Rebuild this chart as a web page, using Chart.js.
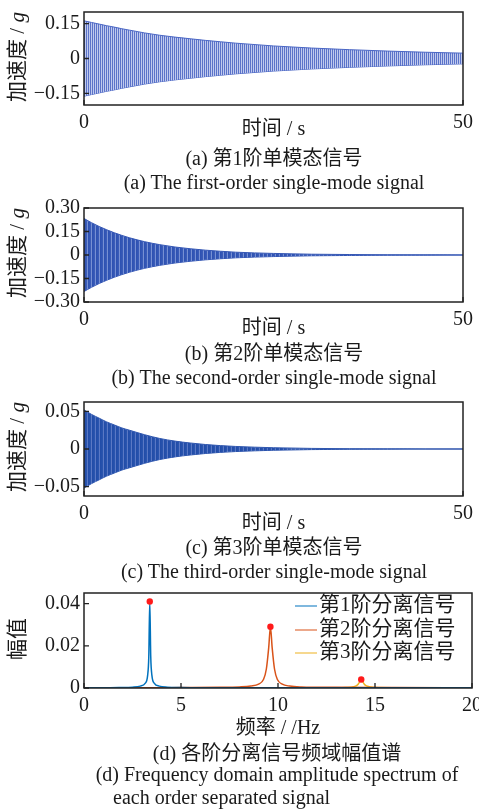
<!DOCTYPE html>
<html><head><meta charset="utf-8">
<script src="https://cdn.jsdelivr.net/npm/chart.js@4.4.1/dist/chart.umd.min.js"></script>
<style>
html,body{margin:0;padding:0;background:#fff;}
#root{position:relative;width:479px;height:810px;overflow:hidden;font-family:"Liberation Serif","Noto Sans CJK SC",serif;color:#1a1a1a;}
canvas{position:absolute;left:0;}
.t{position:absolute;white-space:nowrap;transform:translate(-50%,-50%);font-size:20px;line-height:1;}
.yt{transform:translate(-50%,-50%) rotate(-90deg);font-size:21px;}
.l2{transform:translate(0,-50%);}
.leg{position:absolute;left:295px;white-space:nowrap;font-size:21px;line-height:1;transform:translate(0,-50%);}
.leg span{display:inline-block;width:22px;height:0;border-top:1.6px solid;vertical-align:middle;margin-right:2px;}
</style></head><body><div id="root"></div>
<script>
// ---- data ----
const TIME_S   = [0,1,2,3,4,5,6,8,10,12,14,16,18,20,25,30,35,40,45,50];
const AMP_MODE1 = [0.162,0.155,0.148,0.141,0.135,0.128,0.122,0.110,0.100,0.092,0.085,0.078,0.072,0.066,0.054,0.045,0.038,0.032,0.027,0.023];
const AMP_MODE2 = [0.233,0.206,0.182,0.161,0.142,0.125,0.110,0.085,0.066,0.051,0.040,0.031,0.024,0.018,0.010,0.005,0.003,0.0015,0.001,0.0006];
const AMP_MODE3 = [0.052,0.046,0.041,0.036,0.032,0.028,0.025,0.019,0.014,0.0105,0.008,0.006,0.0045,0.0034,0.0017,0.0008,0.0004,0.0002,0.0001,0.0001];
const X_TICKS_T = [0,50];            const X_LABELS_T = ['0','50'];
const Y_TICKS_1 = [-0.15,0,0.15];    const Y_LABELS_1 = ['\u22120.15','0','0.15'];
const Y_TICKS_2 = [-0.30,-0.15,0,0.15,0.30]; const Y_LABELS_2 = ['\u22120.30','\u22120.15','0','0.15','0.30'];
const Y_TICKS_3 = [-0.05,0,0.05];    const Y_LABELS_3 = ['\u22120.05','0','0.05'];

const FREQ_1 = [0,1,1.8,2.5,2.9,3.15,3.28,3.34,3.39,3.44,3.5,3.63,3.88,4.3,5,6,8,10,15,20];
const SPEC_1 = [0.0001,0.0001,0.0002,0.0004,0.0009,0.0022,0.006,0.015,0.041,0.015,0.006,0.0022,0.0009,0.0004,0.0002,0.0001,0.0001,0.0001,0.0001,0.0001];
const FREQ_2 = [0,2,5,7,8,8.6,9.0,9.25,9.4,9.52,9.61,9.70,9.82,9.97,10.22,10.6,11.2,13,16,20];
const SPEC_2 = [0.0001,0.0001,0.0002,0.0003,0.0005,0.0009,0.0018,0.004,0.009,0.019,0.029,0.019,0.009,0.004,0.0018,0.0009,0.0005,0.0003,0.0002,0.0001];
const FREQ_3 = [0,5,10,13,13.5,13.9,14.1,14.2,14.29,14.38,14.48,14.7,15.1,17,20];
const SPEC_3 = [0.0001,0.0001,0.0001,0.0001,0.0002,0.0006,0.0015,0.0028,0.004,0.0028,0.0015,0.0006,0.0002,0.0001,0.0001];
const PEAK_FREQ = [3.39,9.61,14.29];
const PEAK_AMP  = [0.041,0.029,0.004];
const SERIES_NAMES = ['第1阶分离信号','第2阶分离信号','第3阶分离信号'];
const X_TICKS_F = [0,5,10,15,20];    const X_LABELS_F = ['0','5','10','15','20'];
const Y_TICKS_4 = [0,0.02,0.04];     const Y_LABELS_4 = ['0','0.02','0.04'];

// ---- layout / style ----
const root = document.getElementById('root');
const FONT = '"Liberation Serif","Noto Sans CJK SC",serif';
const TICK_FONT = {family: FONT, size: 20};
const SPEC_COLORS = ['#0072BD','#D95319','#EDB120'];

function addText(html, x, y, cls){
  const d = document.createElement('div');
  d.className = cls || 't';
  d.innerHTML = html;
  d.style.left = x + 'px'; d.style.top = y + 'px';
  root.appendChild(d);
  return d;
}

const framePlugin = {
  id: 'frame',
  afterDraw(chart){
    const {ctx, chartArea: a, scales: {x, y}} = chart;
    ctx.save();
    ctx.strokeStyle = '#222'; ctx.lineWidth = 1.3;
    ctx.beginPath();
    x.ticks.forEach(t => { const p = x.getPixelForValue(t.value); ctx.moveTo(p, a.bottom); ctx.lineTo(p, a.bottom - 5); });
    y.ticks.forEach(t => { const p = y.getPixelForValue(t.value); ctx.moveTo(a.left, p); ctx.lineTo(a.left + 5, p); });
    ctx.stroke();
    ctx.lineWidth = 1.5;
    ctx.strokeRect(a.left, a.top, a.right - a.left, a.bottom - a.top);
    ctx.restore();
  }
};

function makeCanvas(boxTop, boxBottom, cw){
  const c = document.createElement('canvas');
  const top = boxTop - 12;
  c.width = cw; c.height = (boxBottom - boxTop) + 12 + 30;
  c.style.top = top + 'px';
  root.appendChild(c);
  return c;
}

function axes(xmin, xmax, xt, xl, ymin, ymax, yt, yl){
  return {
    x: {type:'linear', min:xmin, max:xmax,
        afterBuildTicks: s => { s.ticks = xt.map(v => ({value:v})); },
        ticks: {callback: (v,i) => xl[i], font: TICK_FONT, color:'#1a1a1a', padding:6, maxRotation:0, autoSkip:false},
        grid: {display:false, drawTicks:false}, border: {display:false},
        afterFit: s => { s.height = 30; }},
    y: {type:'linear', min:ymin, max:ymax,
        afterBuildTicks: s => { s.ticks = yt.map(v => ({value:v})); },
        ticks: {callback: (v,i) => yl[i], font: TICK_FONT, color:'#1a1a1a', padding:4, autoSkip:false},
        grid: {display:false, drawTicks:false}, border: {display:false},
        afterFit: s => { s.width = 84; }}
  };
}

function stripes(ctx, cols){
  const c = document.createElement('canvas');
  c.width = cols.length; c.height = 1;
  const g = c.getContext('2d');
  cols.forEach((col,i) => { g.fillStyle = col; g.fillRect(i,0,1,1); });
  return ctx.createPattern(c, 'repeat');
}

function signalPanel(amp, boxTop, boxBottom, yr, yt, yl, stripeCols, lineCol){
  const c = makeCanvas(boxTop, boxBottom, 479);
  const ctx = c.getContext('2d');
  const up = TIME_S.map((t,i) => ({x:t, y: amp[i]}));
  const lo = TIME_S.map((t,i) => ({x:t, y: -amp[i]}));
  new Chart(ctx, {
    type: 'line',
    data: {datasets: [
      {data: up, borderColor: lineCol, borderWidth: 1, pointRadius: 0, fill: '+1',
       backgroundColor: stripes(ctx, stripeCols), cubicInterpolationMode: 'monotone'},
      {data: lo, borderColor: lineCol, borderWidth: 1, pointRadius: 0, fill: false,
       cubicInterpolationMode: 'monotone'}
    ]},
    options: {
      responsive: false, animation: false, devicePixelRatio: 1,
      layout: {padding: {top: 12, right: 479 - 463, left: 0, bottom: 0}},
      plugins: {legend: {display:false}, tooltip: {enabled:false}},
      scales: axes(0, 50, X_TICKS_T, X_LABELS_T, -yr, yr, yt, yl)
    },
    plugins: [framePlugin]
  });
}

signalPanel(AMP_MODE1, 8, 105, 0.2, Y_TICKS_1, Y_LABELS_1, ['#5b73c9','#c0caee'], '#4a66c4');
signalPanel(AMP_MODE2, 204, 302, 0.30, Y_TICKS_2, Y_LABELS_2, ['#2e52b2','#3356b5','#3a5cb8','#7790d3'], '#3456b4');
signalPanel(AMP_MODE3, 398, 496, 0.0625, Y_TICKS_3, Y_LABELS_3, ['#224da8','#2550ab','#2a55ae','#5a78c4'], '#2f56ae');

// spectrum panel
(function(){
  const c = makeCanvas(589, 688, 490);
  const ctx = c.getContext('2d');
  const pts = (f, a) => f.map((v,i) => ({x:v, y:a[i]}));
  const line = (i, f, a) => ({label: SERIES_NAMES[i], data: pts(f, a), borderColor: SPEC_COLORS[i],
    borderWidth: 1.5, pointRadius: 0, fill: false, cubicInterpolationMode: 'monotone'});
  new Chart(ctx, {
    type: 'line',
    data: {datasets: [
      {type:'scatter', data: pts(PEAK_FREQ, PEAK_AMP), pointRadius: 3.2, pointBackgroundColor:'#ff1a1a', pointBorderWidth:0, showLine:false},
      line(0, FREQ_1, SPEC_1),
      line(1, FREQ_2, SPEC_2),
      line(2, FREQ_3, SPEC_3)
    ]},
    options: {
      responsive: false, animation: false, devicePixelRatio: 1,
      layout: {padding: {top: 12, right: 490 - 472, left: 0, bottom: 0}},
      plugins: {legend: {display:false}, tooltip: {enabled:false}},
      scales: axes(0, 20, X_TICKS_F, X_LABELS_F, 0, 0.045, Y_TICKS_4, Y_LABELS_4)
    },
    plugins: [framePlugin]
  });
})();

// axis titles
[56.5, 253, 447].forEach(y => addText('加速度 / <i>g</i>', 17, y, 't yt'));
addText('幅值', 17, 638.5, 't yt');
[128, 327, 522].forEach(y => addText('时间 / s', 273.5, y));
addText('频率 / /Hz', 278, 727);

// captions
addText('(a) 第1阶单模态信号', 274, 158);
addText('(a) The first-order single-mode signal', 274, 182);
addText('(b) 第2阶单模态信号', 274, 353);
addText('(b) The second-order single-mode signal', 274, 377);
addText('(c) 第3阶单模态信号', 274, 547);
addText('(c) The third-order single-mode signal', 274, 571);
addText('(d) 各阶分离信号频域幅值谱', 277, 753);
addText('(d) Frequency domain amplitude spectrum of', 277, 774);
addText('each order separated signal', 113, 797, 't l2');

// legend
[604, 628, 651].forEach((y,i) => {
  addText('<span style="border-color:' + SPEC_COLORS[i] + '"></span>' + SERIES_NAMES[i], 295, y, 'leg');
});
</script></body></html>
